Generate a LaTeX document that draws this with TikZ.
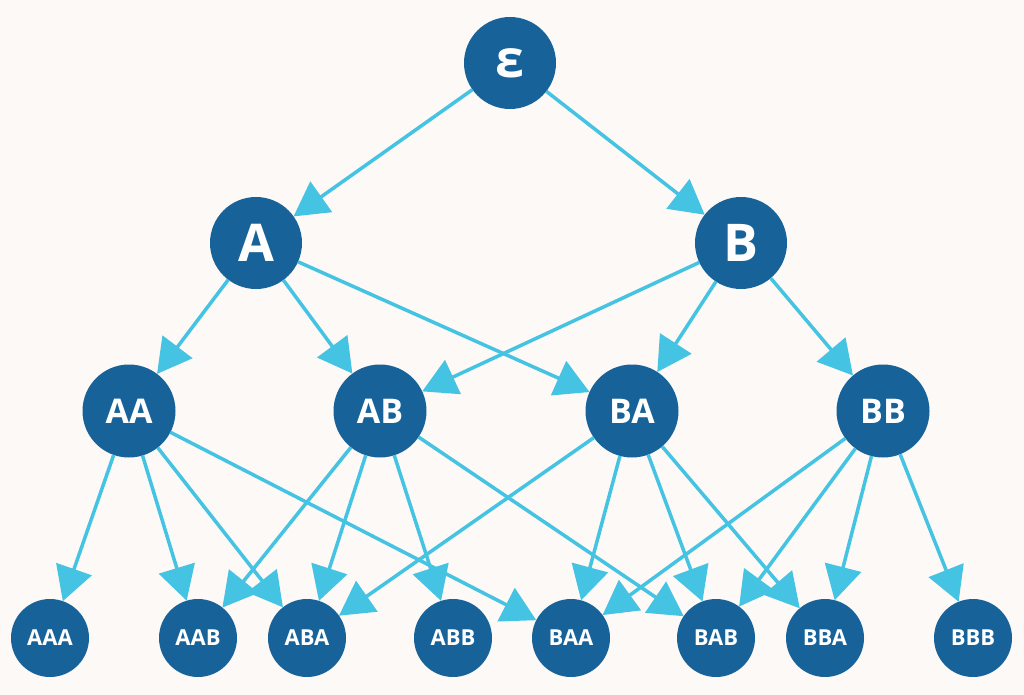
\documentclass[tikz,border=0pt]{standalone}
\usepackage{fontspec}
\setmainfont{Open Sans}
\usetikzlibrary{arrows.meta}
\definecolor{bg}{HTML}{FDF9F6}
\definecolor{nodeblue}{HTML}{176399}
\definecolor{edgeblue}{HTML}{45C3E3}
\tikzset{
  big/.style={circle, fill=nodeblue, text=white, minimum size=92pt, inner sep=0pt, outer sep=0pt, font=\fontsize{52}{52}\selectfont\bfseries},
  mid/.style={circle, fill=nodeblue, text=white, minimum size=93pt, inner sep=0pt, outer sep=0pt, font=\fontsize{34}{34}\selectfont\bfseries},
  leaf/.style={circle, fill=nodeblue, text=white, minimum size=78pt, inner sep=0pt, outer sep=0pt, font=\fontsize{22}{22}\selectfont\bfseries},
  edge/.style={draw=edgeblue, line width=3.5pt, -{Triangle[length=34pt,width=37pt]}, fill=edgeblue}
}
\begin{document}
\begin{tikzpicture}[x=1pt,y=1pt]
\fill[bg] (0,0) rectangle (1024,-695);
\useasboundingbox (0,0) rectangle (1024,-695);
\node[big] (e) at (510,-63) {ε};
\node[big] (A) at (256,-243) {A};
\node[big] (B) at (741,-243) {B};
\node[mid] (AA) at (129,-411) {AA};
\node[mid] (AB) at (380,-411) {AB};
\node[mid] (BA) at (632,-411) {BA};
\node[mid] (BB) at (883,-411) {BB};
\node[leaf] (AAA) at (50,-638) {AAA};
\node[leaf] (AAB) at (198,-638) {AAB};
\node[leaf] (ABA) at (307,-638) {ABA};
\node[leaf] (ABB) at (453,-638) {ABB};
\node[leaf] (BAA) at (571,-638) {BAA};
\node[leaf] (BAB) at (716,-638) {BAB};
\node[leaf] (BBA) at (825,-638) {BBA};
\node[leaf] (BBB) at (973,-638) {BBB};
\foreach \s/\t in {e/A,e/B,A/AA,A/AB,A/BA,B/AB,B/BA,B/BB,
  AA/AAA,AA/AAB,AA/ABA,AA/BAA,AB/AAB,AB/ABA,AB/ABB,AB/BAB,
  BA/ABA,BA/BAA,BA/BAB,BA/BBA,BB/BAA,BB/BAB,BB/BBA,BB/BBB}
  \draw[edge] (\s) -- (\t);
\end{tikzpicture}
\end{document}
